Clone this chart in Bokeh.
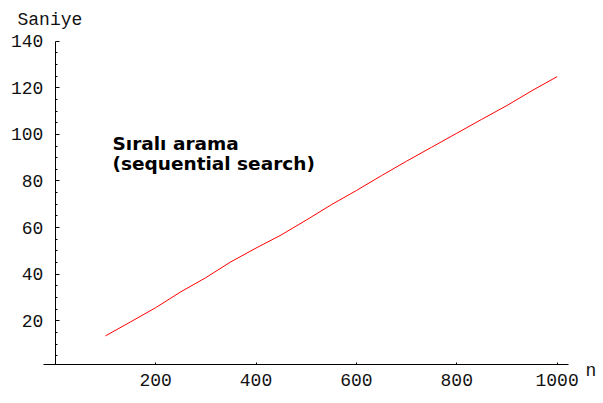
from bokeh.plotting import figure
from bokeh.models import Range1d, Label, FixedTicker
from bokeh.embed import file_html
from bokeh.resources import INLINE

n_values = [100, 150, 200, 250, 300, 350, 400, 450, 500, 550,
            600, 650, 700, 750, 800, 850, 900, 950, 1000]
seconds = [13.5, 19.5, 25.6, 32.4, 38.5, 45.3, 51.2, 56.8, 63.2, 69.8,
           75.9, 82.3, 88.5, 94.5, 100.5, 106.5, 112.4, 118.8, 124.8]
x_ticks = [200, 400, 600, 800, 1000]
y_ticks = [20, 40, 60, 80, 100, 120, 140]
y_minor = [v for v in range(5, 140, 5) if v % 20 != 0]

FONT = "Liberation Mono"
X0, X1 = -24, 1022      # extent of the x axis line
Y0, Y1 = 1.07, 140      # extent of the y axis line

p = figure(frame_width=600, frame_height=400,
           min_border_left=0, min_border_right=0,
           min_border_top=0, min_border_bottom=0,
           x_range=Range1d(-109.2, 1086.5), y_range=Range1d(-14.25, 157.5),
           output_backend="svg", toolbar_location=None)
p.grid.visible = False
p.outline_line_color = None
p.background_fill_color = "white"
p.border_fill_color = "white"

# x axis along y = Y0
xa = p.xaxis[0]
xa.fixed_location = Y0
xa.bounds = (X0, X1)
xa.ticker = FixedTicker(ticks=x_ticks)
xa.major_tick_in = 2
xa.major_tick_out = 0
xa.minor_tick_in = 0
xa.minor_tick_out = 0
xa.major_label_standoff = 9
xa.major_label_text_font = FONT
xa.major_label_text_font_size = "18px"
xa.major_label_text_color = "#111111"
xa.axis_line_color = "black"
xa.major_tick_line_color = "black"

# y axis along x = 0
ya = p.yaxis[0]
ya.fixed_location = 0
ya.bounds = (Y0, Y1)
ya.ticker = FixedTicker(ticks=y_ticks, minor_ticks=y_minor)
ya.major_tick_in = 4
ya.major_tick_out = 0
ya.minor_tick_in = 2
ya.minor_tick_out = 0
ya.major_label_standoff = 12
ya.major_label_text_font = FONT
ya.major_label_text_font_size = "18px"
ya.major_label_text_color = "#111111"
ya.axis_line_color = "black"
ya.major_tick_line_color = "black"
ya.minor_tick_line_color = "black"

p.line(n_values, seconds, line_color="#ff0000", line_width=1)

p.add_layout(Label(x=-75.3, y=149.1, text="Saniye", text_font=FONT,
                   text_font_size="18px", text_color="#111111",
                   text_baseline="alphabetic"))
p.add_layout(Label(x=1056.6, y=-1.7, text="n", text_font=FONT,
                   text_font_size="18px", text_color="#111111",
                   text_baseline="alphabetic"))
p.add_layout(Label(x=114, y=96.2, text="Sıralı arama", text_font="DejaVu Sans",
                   text_font_style="bold", text_font_size="18.5px",
                   text_color="black", text_baseline="alphabetic"))
p.add_layout(Label(x=114, y=87.6, text="(sequential search)", text_font="DejaVu Sans",
                   text_font_style="bold", text_font_size="18.5px",
                   text_color="black", text_baseline="alphabetic"))

open("out.html", "w").write(file_html(p, INLINE))
